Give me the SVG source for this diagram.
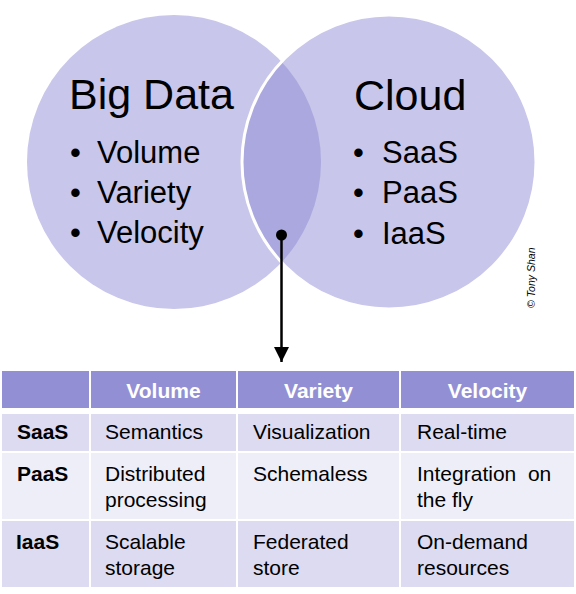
<svg xmlns="http://www.w3.org/2000/svg" width="576" height="594" viewBox="0 0 576 594">
<style>
text{font-family:"Liberation Sans",Arial,sans-serif;fill:#000}
.title{font-size:43px}
.item{font-size:31px}
.th{font-size:21px;font-weight:bold;fill:#fff;text-anchor:middle}
.rh{font-size:21px;font-weight:bold}
.td{font-size:21px}
.hdr{fill:#938FD5}
.odd{fill:#DCDBF1}
.even{fill:#EEEEF8}
</style>
<defs>
<clipPath id="clipR"><circle cx="389" cy="162" r="147"/></clipPath>
<marker id="arr" viewBox="0 0 10 10" refX="10" refY="5" markerWidth="6" markerHeight="6" markerUnits="strokeWidth" orient="auto">
<path d="M0,0 L10,5 L0,10 z" fill="#000"/>
</marker>
</defs>
<rect width="576" height="594" fill="#fff"/>
<g id="bigdata">
<circle cx="174" cy="162" r="147" fill="#C8C6EA"/>
</g>
<g id="cloud">
<circle cx="389" cy="162" r="147" fill="#C8C6EA"/>
</g>
<g id="overlap">
<circle cx="174" cy="162" r="147" fill="#AAA8DE" clip-path="url(#clipR)"/>
<circle cx="389" cy="162" r="147" fill="none" stroke="#fff" stroke-width="3"/>
</g>
<g id="bigdata-text">
<text class="title" x="69" y="109">Big Data</text>
<text class="item" x="70" y="163">•</text><text class="item" x="97" y="163">Volume</text>
<text class="item" x="70" y="203">•</text><text class="item" x="97" y="203">Variety</text>
<text class="item" x="70" y="243">•</text><text class="item" x="97" y="243">Velocity</text>
</g>
<g id="cloud-text">
<text class="title" x="354" y="110">Cloud</text>
<text class="item" x="353" y="163">•</text><text class="item" x="382" y="163">SaaS</text>
<text class="item" x="353" y="203">•</text><text class="item" x="382" y="203">PaaS</text>
<text class="item" x="353" y="244">•</text><text class="item" x="382" y="244">IaaS</text>
</g>
<g id="copyright">
<text x="0" y="0" transform="translate(535,308) rotate(-90)" font-size="10.5" font-style="italic">© Tony Shan</text>
</g>
<g id="connectors">
<circle cx="281.5" cy="235" r="5.5" fill="#000"/>
<line x1="281.5" y1="235" x2="281.5" y2="362" stroke="#000" stroke-width="2.5" marker-end="url(#arr)"/>
</g>
<g id="table">
<rect class="hdr" x="2" y="371" width="87" height="37"/>
<rect class="hdr" x="91" y="371" width="145" height="37"/>
<rect class="hdr" x="238" y="371" width="161" height="37"/>
<rect class="hdr" x="401" y="371" width="173" height="37"/>
<rect class="odd" x="2" y="414" width="87" height="37"/>
<rect class="odd" x="91" y="414" width="145" height="37"/>
<rect class="odd" x="238" y="414" width="161" height="37"/>
<rect class="odd" x="401" y="414" width="173" height="37"/>
<rect class="even" x="2" y="453" width="87" height="66"/>
<rect class="even" x="91" y="453" width="145" height="66"/>
<rect class="even" x="238" y="453" width="161" height="66"/>
<rect class="even" x="401" y="453" width="173" height="66"/>
<rect class="odd" x="2" y="521" width="87" height="66"/>
<rect class="odd" x="91" y="521" width="145" height="66"/>
<rect class="odd" x="238" y="521" width="161" height="66"/>
<rect class="odd" x="401" y="521" width="173" height="66"/>
<text class="th" x="163.5" y="398">Volume</text>
<text class="th" x="318.5" y="398">Variety</text>
<text class="th" x="487.5" y="398">Velocity</text>
<text class="rh" x="17" y="439">SaaS</text>
<text class="rh" x="17" y="481">PaaS</text>
<text class="rh" x="16" y="549">IaaS</text>
<text class="td" x="105" y="439">Semantics</text>
<text class="td" x="253" y="439">Visualization</text>
<text class="td" x="417" y="439">Real-time</text>
<text class="td" x="105" y="481">Distributed</text>
<text class="td" x="105" y="507">processing</text>
<text class="td" x="253" y="481">Schemaless</text>
<text class="td" x="417" y="481">Integration&#160; on</text>
<text class="td" x="417" y="507">the fly</text>
<text class="td" x="105" y="549">Scalable</text>
<text class="td" x="105" y="575">storage</text>
<text class="td" x="253" y="549">Federated</text>
<text class="td" x="253" y="575">store</text>
<text class="td" x="417" y="549">On-demand</text>
<text class="td" x="417" y="575">resources</text>
</g>
</svg>
